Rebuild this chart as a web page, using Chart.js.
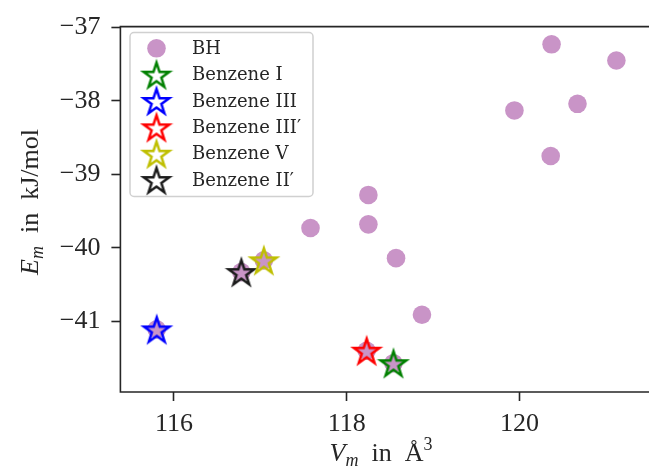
<!DOCTYPE html>
<html>
<head>
<meta charset="utf-8">
<script src="https://cdn.jsdelivr.net/npm/chart.js@4.4.1/dist/chart.umd.min.js"></script>
<style>
  html, body { margin: 0; padding: 0; background: #fff; }
  #wrap { width: 649px; height: 469px; }
</style>
</head>
<body>
<div id="wrap"><canvas id="myChart"></canvas></div>
<script>
// BH structures (all of them, the benzene ones are also drawn under the stars)
const bhVolume = [120.37, 121.12, 119.94, 120.67, 120.36, 118.25, 118.25, 117.58, 118.57, 118.87, 118.23, 118.54, 116.78, 117.04, 115.80];
const bhEnergy = [-37.23, -37.45, -38.13, -38.04, -38.75, -39.28, -39.68, -39.73, -40.14, -40.91, -41.40, -41.57, -40.33, -40.17, -41.11];

// known benzene polymorphs
const polyLabels = ["Benzene I", "Benzene III", "Benzene III\u2032", "Benzene V", "Benzene II\u2032"];
const polyVolume = [118.54, 115.80, 118.23, 117.04, 116.78];
const polyEnergy = [-41.57, -41.11, -41.40, -40.17, -40.33];
const polyColors = ["#008000", "#0000ff", "#ff0000", "#bfbf00", "#1c1c1c"];

const xTicks = [116, 118, 120];
const yTicks = [-37, -38, -39, -40, -41];

const textColor = "#262626";
const bhColor = "rgb(201, 148, 199)";
const serif = "'Liberation Serif', serif";

function makeStar(color) {
  const size = 34;
  const c = document.createElement("canvas");
  c.width = size;
  c.height = size;
  const g = c.getContext("2d");
  const R = 13.4, r = R * 0.382;
  const cx = size / 2, cy = size / 2 + R * 0.1;
  g.beginPath();
  for (let i = 0; i < 10; i++) {
    const rad = i % 2 === 0 ? R : r;
    const a = -Math.PI / 2 + i * Math.PI / 5;
    const px = cx + rad * Math.cos(a), py = cy + rad * Math.sin(a);
    if (i === 0) g.moveTo(px, py); else g.lineTo(px, py);
  }
  g.closePath();
  g.lineJoin = "miter";
  g.lineWidth = 2.5;
  g.strokeStyle = color;
  g.stroke();
  return c;
}

const starImages = polyColors.map(makeStar);

const datasets = [{
  label: "BH",
  data: bhVolume.map((v, i) => ({ x: v, y: bhEnergy[i] })),
  backgroundColor: bhColor,
  borderWidth: 0,
  pointRadius: 9.3,
  pointHoverRadius: 9.3,
  order: 1,
}];
polyLabels.forEach((name, i) => {
  datasets.push({
    label: name,
    data: [{ x: polyVolume[i], y: polyEnergy[i] }],
    pointStyle: starImages[i],
    borderColor: polyColors[i],
    order: 0,
  });
});

function minus(v) {
  return v < 0 ? "\u2212" + Math.abs(v) : String(v);
}

// text with sub/superscripts, parts = [text, size, italic, dy]
function drawRich(ctx, parts, x, y) {
  let w = 0;
  parts.forEach(p => {
    ctx.font = (p[2] ? "italic " : "") + p[1] + "px " + serif;
    p.w = ctx.measureText(p[0]).width;
    w += p.w;
  });
  let cx = x - w / 2;
  parts.forEach(p => {
    ctx.font = (p[2] ? "italic " : "") + p[1] + "px " + serif;
    ctx.fillText(p[0], cx, y + p[3]);
    cx += p.w;
  });
}

const decorations = {
  id: "decorations",
  afterDraw(chart) {
    const ctx = chart.ctx;
    const a = chart.chartArea;
    ctx.save();

    // frame (right spine falls off the picture)
    ctx.strokeStyle = textColor;
    ctx.lineWidth = 1.6;
    ctx.beginPath();
    ctx.moveTo(chart.width + 2, a.top);
    ctx.lineTo(a.left, a.top);
    ctx.lineTo(a.left, a.bottom);
    ctx.lineTo(chart.width + 2, a.bottom);
    ctx.stroke();

    // axis titles
    ctx.fillStyle = textColor;
    ctx.textBaseline = "alphabetic";
    ctx.textAlign = "left";
    drawRich(ctx, [["V", 26, true, 0], ["m", 18, true, 5], ["\u2002in\u2002\u00c5", 26, false, 0], ["3", 18, false, -11]], (a.left + a.right) / 2 + 1, 461);
    ctx.save();
    ctx.translate(38, 202);
    ctx.rotate(-Math.PI / 2);
    drawRich(ctx, [["E", 26, true, 0], ["m", 18, true, 5], ["\u2002in\u2002kJ/mol", 26, false, 0]], 0, 0);
    ctx.restore();

    // legend
    const bx = 130, by = 32.5, bw = 183, bh = 164;
    ctx.beginPath();
    ctx.roundRect(bx, by, bw, bh, 4);
    ctx.fillStyle = "rgba(255,255,255,0.8)";
    ctx.fill();
    ctx.strokeStyle = "#d0d0d0";
    ctx.lineWidth = 1.5;
    ctx.stroke();

    const mx = 156.5, tx = 192, y0 = 48.3, step = 26.35;
    ctx.font = "18px 'DejaVu Serif', serif";
    ctx.textBaseline = "middle";
    chart.data.datasets.forEach((ds, i) => {
      const y = y0 + i * step;
      if (i === 0) {
        ctx.beginPath();
        ctx.arc(mx, y, 9.3, 0, Math.PI * 2);
        ctx.fillStyle = ds.backgroundColor;
        ctx.fill();
      } else {
        const img = ds.pointStyle;
        ctx.drawImage(img, mx - img.width / 2, y - img.height / 2);
      }
      ctx.fillStyle = textColor;
      ctx.fillText(ds.label, tx, y + 1);
    });
    ctx.restore();
  }
};

const ctx1 = document.getElementById("myChart");

const scatterChart = new Chart(ctx1, {
  type: "scatter",
  data: { datasets: datasets },
  options: {
    responsive: true,
    maintainAspectRatio: false,
    animation: false,
    layout: { padding: { top: 23.5, right: 0, left: 0, bottom: 0 } },
    plugins: {
      legend: { display: false },
      tooltip: { enabled: false },
    },
    scales: {
      x: {
        type: "linear",
        min: 115.38,
        max: 121.39,
        afterBuildTicks: (scale) => { scale.ticks = xTicks.map(v => ({ value: v })); },
        afterFit: (scale) => { scale.height = 77; },
        border: { display: false },
        grid: {
          drawOnChartArea: false,
          drawTicks: true,
          tickLength: 9,
          tickWidth: 1.6,
          tickColor: textColor,
        },
        ticks: {
          color: textColor,
          font: { family: serif, size: 26 },
          padding: 8,
          maxRotation: 0,
          autoSkip: false,
          callback: (v) => minus(v),
        },
      },
      y: {
        type: "linear",
        min: -41.962,
        max: -36.989,
        afterBuildTicks: (scale) => { scale.ticks = yTicks.map(v => ({ value: v })); },
        afterFit: (scale) => { scale.width = 120.4; },
        border: { display: false },
        grid: {
          drawOnChartArea: false,
          drawTicks: true,
          tickLength: 9,
          tickWidth: 1.6,
          tickColor: textColor,
        },
        ticks: {
          color: textColor,
          font: { family: serif, size: 26 },
          padding: 11,
          autoSkip: false,
          callback: (v) => minus(v),
        },
      },
    },
  },
  plugins: [decorations],
});
</script>
</body>
</html>
